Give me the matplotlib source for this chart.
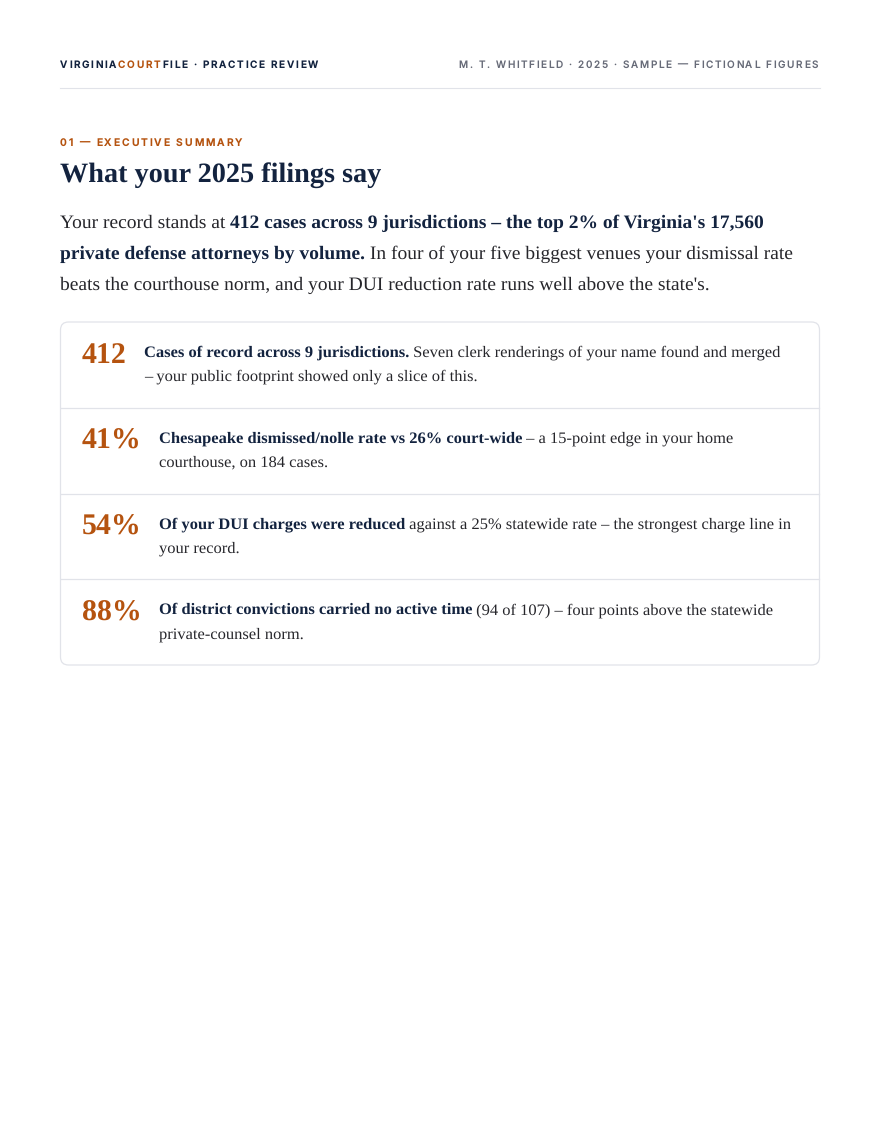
import matplotlib
matplotlib.use("Agg")
import matplotlib.pyplot as plt
from matplotlib.patches import FancyBboxPatch

plt.rcParams["text.hinting"] = "no_hinting"

# colours
NAVY = "#13233f"
ORANGE = "#b5530f"
INK = "#26262b"
GREY = "#676b78"
RULE = "#e1e3e9"

SERIF = "Liberation Serif"
SANS = "Inter"

# page texts
header_left = [("VIRGINIA", NAVY), ("COURT", ORANGE), ("FILE · PRACTICE REVIEW", NAVY)]
header_right = "M. T. WHITFIELD · 2025 · SAMPLE — FICTIONAL FIGURES"
eyebrow = "01 — EXECUTIVE SUMMARY"
title = "What your 2025 filings say"

# intro paragraph, one list per line: (text, bold)
intro_lines = [
    [("Your record stands at ", False),
     ("412 cases across 9 jurisdictions – the top 2% of Virginia's 17,560", True)],
    [("private defense attorneys by volume.", True),
     (" In four of your five biggest venues your dismissal rate", False)],
    [("beats the courthouse norm, and your DUI reduction rate runs well above the state's.", False)],
]

# key figures in the card
stat_values = ["412", "41%", "54%", "88%"]
stat_lines = [
    [[("Cases of record across 9 jurisdictions.", True),
      (" Seven clerk renderings of your name found and merged", False)],
     [("– your public footprint showed only a slice of this.", False)]],
    [[("Chesapeake dismissed/nolle rate vs 26% court-wide", True),
      (" – a 15-point edge in your home", False)],
     [("courthouse, on 184 cases.", False)]],
    [[("Of your DUI charges were reduced", True),
      (" against a 25% statewide rate – the strongest charge line in", False)],
     [("your record.", False)]],
    [[("Of district convictions carried no active time", True),
      (" (94 of 107) – four points above the statewide", False)],
     [("private-counsel norm.", False)]],
]

fig = plt.figure(figsize=(8.8, 11.4), dpi=100)
ax = fig.add_axes([0, 0, 1, 1])
ax.set_xlim(0, 880)
ax.set_ylim(1140, 0)
ax.axis("off")
fig.canvas.draw()
renderer = fig.canvas.get_renderer()


def text_w(s, **kw):
    t = ax.text(0, 0, "|" + s + "|", **kw)
    w1 = t.get_window_extent(renderer).width
    t.remove()
    t = ax.text(0, 0, "||", **kw)
    w2 = t.get_window_extent(renderer).width
    t.remove()
    return w1 - w2


def tracked(x, y, s, track, align="left", **kw):
    widths = [text_w(c, **kw) for c in s]
    total = sum(widths) + track * (len(s) - 1)
    if align == "right":
        x = x - total
    for c, w in zip(s, widths):
        ax.text(x, y, c, va="baseline", ha="left", **kw)
        x += w + track
    return x


def rich(x, y, parts, size, reg_color=INK, bold_color=NAVY):
    for s, bold in parts:
        kw = dict(family=SERIF, fontsize=size,
                  fontweight="bold" if bold else "normal",
                  color=bold_color if bold else reg_color)
        ax.text(x, y, s, va="baseline", ha="left", **kw)
        x += text_w(s, **kw)
    return x


# header
x = 60
for s, c in header_left:
    x = tracked(x, 68, s, 1.7, family=SANS, fontsize=7.2, fontweight="semibold", color=c)
tracked(818, 68, header_right, 1.65, align="right", family=SANS, fontsize=7.2,
        fontweight="medium", color=GREY)
ax.plot([60, 820], [88, 88], color=RULE, lw=0.8)

# section heading
tracked(60, 146, eyebrow, 1.9, family=SANS, fontsize=7.4, fontweight="semibold", color=ORANGE)
ax.text(60, 182, title, family=SERIF, fontsize=20.3, fontweight="bold", color=NAVY,
        va="baseline")

# intro paragraph
for i, line in enumerate(intro_lines):
    rich(60, 228 + 31 * i, line, 14.0)

# card
card_top, card_bot = 322, 665
ax.add_patch(FancyBboxPatch((60.5, card_top), 759, card_bot - card_top,
                            boxstyle="round,pad=0,rounding_size=8",
                            fc="white", ec=RULE, lw=0.9))
row_h = (card_bot - card_top) / len(stat_values)
for i, (val, lines) in enumerate(zip(stat_values, stat_lines)):
    top = card_top + row_h * i
    if i > 0:
        ax.plot([61, 819], [top, top], color=RULE, lw=0.9)
    base = top + 35
    num_kw = dict(family=SERIF, fontsize=21.5, fontweight="bold", color=ORANGE)
    ax.text(82, base + 6, val, va="baseline", ha="left", **num_kw)
    tx = 82 + text_w(val, **num_kw) + 17
    for j, line in enumerate(lines):
        rich(tx, base + 24 * j, line, 11.85)

fig.savefig("out.png", dpi=100)
